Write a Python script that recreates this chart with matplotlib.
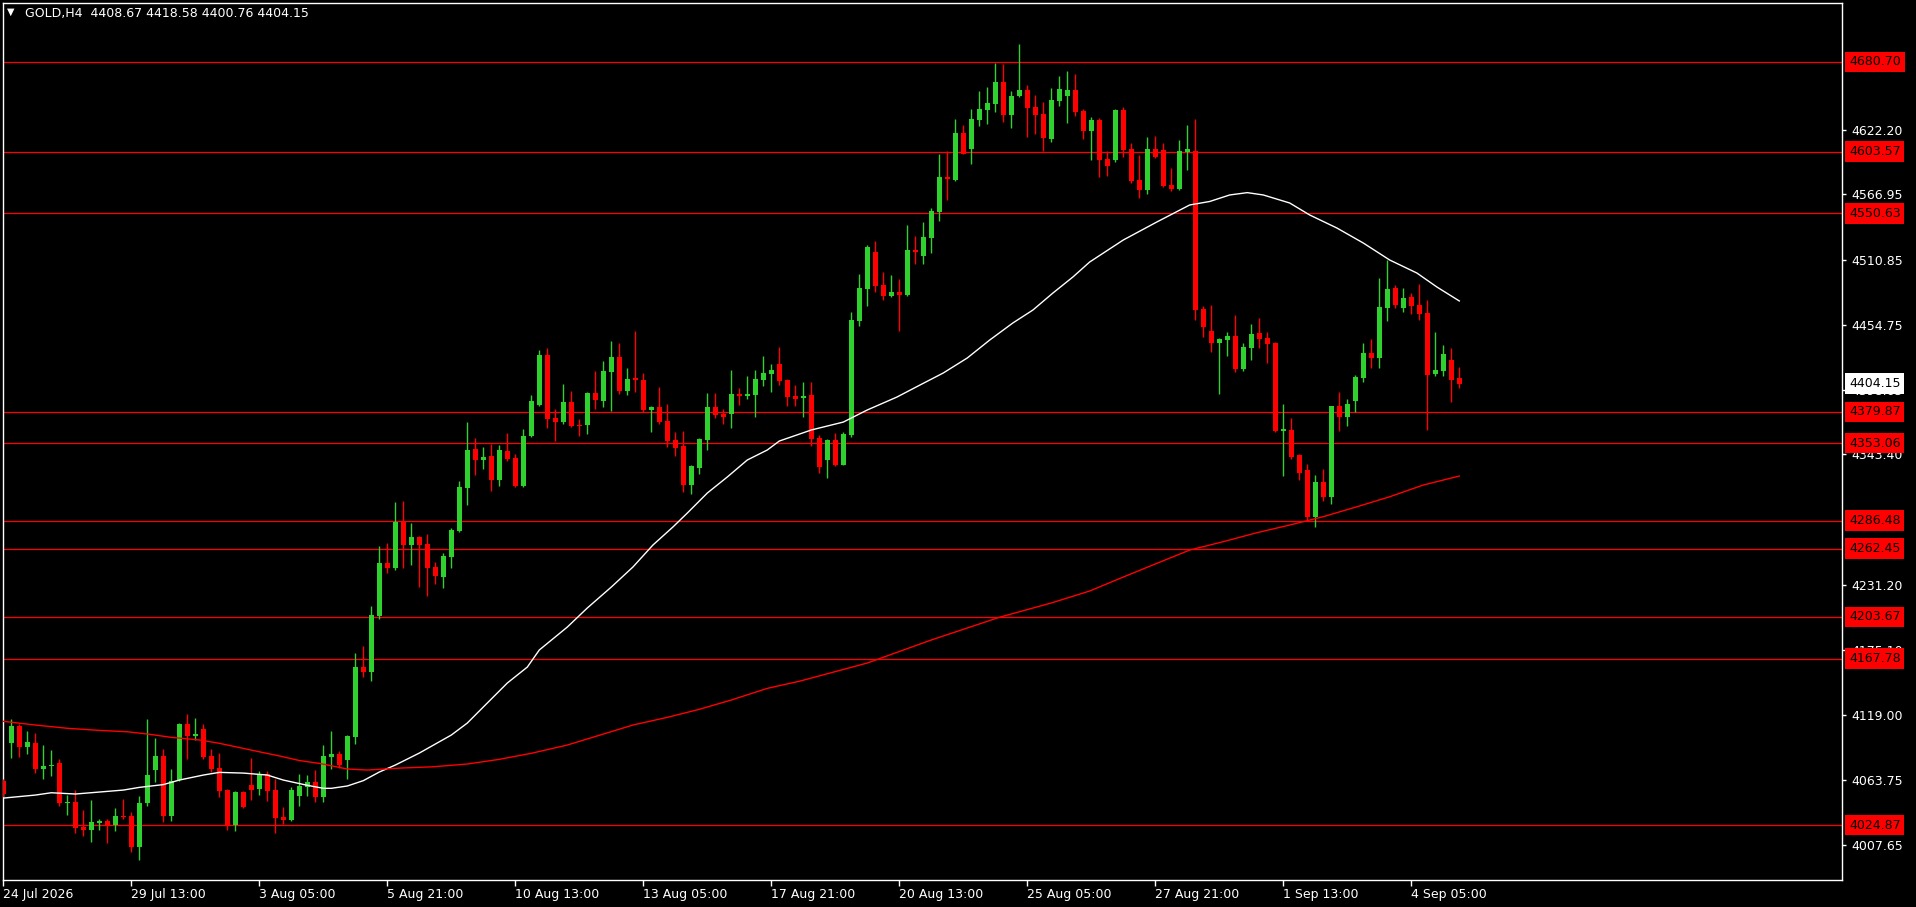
import matplotlib
matplotlib.use('Agg')
import matplotlib.pyplot as plt
import matplotlib.transforms as mtransforms
import numpy as np

# Свечи GOLD H4 (O, H, L, C)
opens = [4062.7, 4095.6, 4109.9, 4091.9, 4095.3, 4072.9, 4075.5, 4078.1, 4043.8, 4044.6,
         4023.1, 4020.5, 4026.8, 4028.3, 4024.8, 4032.8, 4032.6, 4005.9, 4043.8, 4072.1,
         4084.1, 4032.6, 4063.5, 4111.6, 4101.6, 4107.3, 4084.1, 4073.8, 4054.9, 4024.8,
         4053.2, 4059.2, 4055.8, 4068.7, 4054.9, 4031.7, 4029.1, 4049.8, 4057.5, 4061.8,
         4048.9, 4083.3, 4085.9, 4080.7, 4100.5, 4160.6, 4156.3, 4204.5, 4250.0, 4245.7,
         4285.3, 4265.5, 4272.4, 4266.4, 4246.6, 4238.0, 4255.2, 4277.5, 4314.5, 4348.0,
         4338.6, 4342.0, 4321.4, 4346.3, 4340.3, 4316.2, 4359.2, 4385.9, 4428.8, 4374.7,
         4371.2, 4388.4, 4368.7, 4368.7, 4396.2, 4389.3, 4414.2, 4427.1, 4397.9, 4409.1,
         4407.4, 4381.6, 4384.1, 4372.1, 4355.8, 4350.6, 4317.1, 4331.7, 4355.8, 4384.1,
         4378.1, 4378.1, 4395.3, 4393.6, 4394.5, 4407.4, 4412.5, 4421.1, 4407.4, 4393.6,
         4392.1, 4394.5, 4357.5, 4338.8, 4355.8, 4334.5, 4360.3, 4458.3, 4485.8, 4517.4,
         4489.0, 4479.8, 4483.0, 4480.7, 4519.1, 4514.2, 4529.4, 4551.8, 4581.9, 4579.3,
         4619.7, 4605.9, 4631.1, 4639.4, 4644.6, 4663.5, 4635.1, 4651.5, 4656.6, 4642.0,
         4636.0, 4614.5, 4647.2, 4651.5, 4656.6, 4638.6, 4621.4, 4630.8, 4597.3, 4596.5,
         4639.4, 4605.9, 4579.3, 4570.7, 4605.9, 4605.1, 4575.0, 4571.5, 4603.3, 4604.2,
         4468.4, 4449.5, 4439.2, 4441.7, 4445.2, 4416.8, 4434.9, 4447.8, 4443.5, 4439.2,
         4363.8, 4364.4, 4342.9, 4330.0, 4289.6, 4319.7, 4306.8, 4385.0, 4375.5, 4389.3,
         4409.1, 4430.6, 4426.3, 4469.2, 4486.4, 4469.2, 4478.7, 4471.8, 4464.9, 4412.5,
         4415.1, 4424.5, 4408.67]
highs = [4064.4, 4115.9, 4111.6, 4105.6, 4103.9, 4093.6, 4089.3, 4081.6, 4050.6, 4054.9,
         4037.7, 4046.3, 4030.0, 4030.0, 4039.5, 4047.2, 4036.0, 4049.8, 4115.9, 4099.6,
         4090.2, 4073.0, 4112.5, 4120.2, 4116.8, 4111.6, 4090.2, 4086.7, 4055.8, 4054.1,
         4054.1, 4082.4, 4071.2, 4071.2, 4064.4, 4040.3, 4057.5, 4068.7, 4067.8, 4072.1,
         4093.6, 4105.6, 4088.4, 4102.2, 4172.7, 4178.7, 4213.1, 4264.7, 4267.2, 4302.5,
         4303.4, 4284.4, 4273.3, 4275.0, 4250.9, 4258.6, 4280.1, 4320.5, 4371.2, 4357.5,
         4349.8, 4352.3, 4351.5, 4361.8, 4343.7, 4365.2, 4394.5, 4433.1, 4434.9, 4382.4,
         4403.9, 4397.9, 4373.8, 4397.0, 4415.1, 4423.7, 4440.9, 4439.2, 4417.7, 4449.5,
         4413.4, 4385.0, 4401.3, 4386.7, 4362.6, 4363.5, 4334.3, 4357.5, 4396.2, 4396.2,
         4382.4, 4415.9, 4400.5, 4410.8, 4415.9, 4428.0, 4421.1, 4435.7, 4408.2, 4403.1,
         4405.6, 4405.6, 4360.1, 4356.6, 4361.8, 4362.6, 4465.8, 4498.5, 4523.4, 4526.8,
         4500.2, 4497.6, 4494.2, 4540.6, 4531.1, 4543.2, 4555.2, 4601.6, 4604.2, 4631.7,
         4626.6, 4640.3, 4655.8, 4659.2, 4679.8, 4679.0, 4655.8, 4696.2, 4660.9, 4652.3,
         4646.3, 4658.4, 4668.7, 4673.0, 4670.4, 4640.3, 4633.4, 4632.6, 4604.2, 4640.3,
         4642.0, 4611.1, 4600.8, 4616.2, 4617.1, 4611.1, 4589.6, 4613.7, 4626.6, 4631.7,
         4471.0, 4471.8, 4443.5, 4448.6, 4463.2, 4439.2, 4455.5, 4460.6, 4448.6, 4440.0,
         4386.7, 4374.7, 4343.7, 4335.1, 4325.7, 4330.8, 4385.0, 4397.0, 4391.0, 4411.7,
         4439.2, 4442.6, 4495.0, 4510.5, 4489.0, 4486.4, 4482.1, 4489.9, 4476.1, 4448.6,
         4437.4, 4434.9, 4418.58]
lows = [4048.9, 4082.7, 4083.3, 4085.9, 4069.5, 4064.4, 4066.9, 4041.1, 4033.4, 4017.9,
        4015.4, 4010.2, 4020.5, 4009.4, 4019.7, 4030.0, 4001.6, 3994.7, 4041.1, 4061.8,
        4027.4, 4028.3, 4062.7, 4081.6, 4097.9, 4081.6, 4070.4, 4048.9, 4020.5, 4019.7,
        4039.5, 4046.3, 4050.6, 4045.5, 4017.9, 4025.7, 4028.3, 4041.1, 4049.8, 4044.6,
        4044.6, 4072.9, 4073.8, 4064.4, 4094.5, 4152.0, 4148.6, 4201.9, 4241.5, 4244.0,
        4245.7, 4248.3, 4229.4, 4221.7, 4232.0, 4228.6, 4245.7, 4276.7, 4299.9, 4325.7,
        4330.8, 4311.9, 4316.2, 4338.0, 4315.4, 4315.4, 4358.4, 4385.0, 4366.1, 4354.9,
        4369.5, 4367.0, 4359.2, 4360.9, 4382.4, 4384.2, 4380.7, 4395.3, 4394.5, 4397.0,
        4379.8, 4362.6, 4369.5, 4349.8, 4342.0, 4311.1, 4309.4, 4326.5, 4347.2, 4374.7,
        4369.5, 4366.1, 4385.9, 4391.0, 4375.5, 4402.2, 4397.0, 4403.0, 4385.0, 4385.0,
        4375.5, 4350.9, 4327.7, 4323.4, 4333.7, 4334.3, 4358.6, 4454.0, 4471.2, 4483.2,
        4476.4, 4479.0, 4449.7, 4479.8, 4507.3, 4507.3, 4516.8, 4544.3, 4562.3, 4578.4,
        4601.6, 4593.0, 4625.9, 4627.7, 4637.7, 4629.4, 4624.0, 4650.6, 4616.2, 4618.8,
        4604.2, 4611.9, 4642.9, 4628.3, 4634.3, 4614.5, 4596.5, 4581.9, 4582.7, 4594.7,
        4599.0, 4576.7, 4563.8, 4567.2, 4598.2, 4573.3, 4569.8, 4570.7, 4587.9, 4458.9,
        4444.3, 4431.4, 4395.3, 4428.0, 4414.2, 4415.1, 4424.5, 4434.9, 4421.9, 4362.6,
        4324.8, 4339.5, 4321.4, 4287.0, 4281.0, 4303.4, 4300.8, 4363.5, 4367.8, 4379.8,
        4405.6, 4417.7, 4417.7, 4458.1, 4469.2, 4465.8, 4464.1, 4458.9, 4364.4, 4410.8,
        4410.8, 4388.4, 4400.76]
closes = [4051.5, 4110.2, 4091.9, 4096.2, 4073.2, 4075.5, 4076.4, 4043.8, 4044.6, 4022.3,
          4020.5, 4027.4, 4028.5, 4024.8, 4032.6, 4032.0, 4005.9, 4043.8, 4067.8, 4084.1,
          4032.6, 4062.7, 4111.6, 4101.3, 4103.1, 4083.3, 4072.9, 4054.1, 4024.8, 4053.2,
          4040.3, 4054.9, 4067.8, 4054.1, 4030.8, 4029.1, 4054.9, 4058.4, 4061.8, 4048.9,
          4084.1, 4085.9, 4076.4, 4101.3, 4160.6, 4156.3, 4205.3, 4250.0, 4245.7, 4285.3,
          4265.5, 4272.4, 4265.5, 4245.7, 4238.9, 4256.1, 4278.4, 4315.4, 4347.2, 4338.6,
          4341.2, 4321.4, 4347.2, 4339.5, 4316.2, 4359.2, 4389.3, 4428.8, 4373.8, 4371.2,
          4388.4, 4367.8, 4367.8, 4396.2, 4390.2, 4415.1, 4427.1, 4397.9, 4408.2, 4407.4,
          4381.6, 4384.1, 4371.2, 4354.9, 4348.9, 4317.1, 4333.4, 4356.6, 4384.1, 4377.3,
          4375.5, 4395.3, 4393.6, 4395.3, 4408.2, 4413.4, 4415.9, 4406.5, 4392.7, 4391.2,
          4393.8, 4356.9, 4332.8, 4355.8, 4334.5, 4360.9, 4458.9, 4486.4, 4521.7, 4488.4,
          4479.8, 4483.0, 4480.7, 4519.1, 4517.6, 4530.3, 4552.6, 4581.9, 4579.9, 4619.7,
          4601.9, 4631.7, 4640.3, 4645.5, 4663.5, 4635.1, 4651.5, 4656.6, 4641.2, 4635.1,
          4615.4, 4648.0, 4657.5, 4656.6, 4637.7, 4621.4, 4630.8, 4596.5, 4591.3, 4639.4,
          4605.1, 4578.4, 4570.7, 4605.9, 4599.0, 4574.1, 4571.5, 4604.2, 4605.9, 4467.5,
          4452.9, 4439.2, 4442.6, 4445.2, 4416.8, 4435.7, 4446.9, 4442.6, 4438.3, 4363.5,
          4365.0, 4341.2, 4327.4, 4289.6, 4319.7, 4306.8, 4385.0, 4375.5, 4386.7, 4409.9,
          4430.6, 4426.3, 4470.1, 4485.6, 4471.8, 4477.8, 4471.0, 4464.1, 4411.7, 4415.9,
          4429.7, 4407.4, 4404.15]

# Скользящие средние (значения по номеру свечи)
white_ma_idx = [0, 4, 6, 9, 15, 17, 20, 22, 25, 27, 30, 33, 35, 38, 40, 41, 43, 45, 47,
                49, 52, 56, 58, 60, 63, 65.5, 67, 70.5, 73, 76, 78.7, 81.2, 83.7, 85.5,
                88, 90.5, 93, 95.5, 97, 101, 105, 108, 111.7, 114.6, 117.5, 120.5, 123.3,
                126.2, 128.7, 131.2, 133.7, 135.8, 140, 144.2, 148.3, 150.8, 153.3,
                155.5, 157.5, 160.8, 163.3, 166.7, 170, 173.3, 176.7, 179.2, 182]
white_ma_val = [4048.0, 4050.6, 4052.6, 4051.5, 4054.9, 4057.2, 4059.6, 4063.5, 4067.8,
                4070.1, 4069.5, 4067.8, 4063.5, 4059.0, 4056.4, 4056.4, 4058.4, 4063.0,
                4070.4, 4076.4, 4086.7, 4102.2, 4112.5, 4126.3, 4146.9, 4160.6, 4175.3,
                4195.0, 4211.4, 4229.4, 4246.6, 4265.5, 4281.0, 4293.0, 4310.2, 4324.0,
                4338.6, 4347.2, 4354.9, 4364.4, 4371.2, 4381.6, 4392.7, 4403.1, 4413.4,
                4426.3, 4441.7, 4456.4, 4467.5, 4482.1, 4495.9, 4508.8, 4527.7, 4543.2,
                4557.8, 4560.8, 4566.4, 4568.4, 4566.4, 4559.5, 4549.2, 4538.0, 4525.1,
                4510.5, 4499.3, 4487.3, 4475.3]
red_ma_idx = [0, 4, 8, 12, 15.5, 18, 21, 24.6, 27, 29.6, 32, 34.6, 37, 39.6, 43, 45.5,
              49.6, 53.7, 58, 62, 66, 70.5, 74.6, 78.7, 83, 87, 91, 95.5, 99.6, 108, 116,
              124.6, 131, 135.8, 140, 144.2, 148.3, 152.5, 156.7, 160.8, 165, 169.2,
              173.3, 177.5, 182]
red_ma_val = [4114.0, 4110.8, 4108.0, 4106.2, 4105.0, 4103.1, 4100.2, 4097.9, 4095.1,
              4091.3, 4087.8, 4084.1, 4080.3, 4077.7, 4073.0, 4072.1, 4073.8, 4074.9,
              4077.3, 4081.3, 4086.5, 4093.6, 4102.2, 4110.8, 4117.4, 4124.3, 4132.3,
              4142.3, 4148.6, 4164.1, 4183.9, 4203.6, 4215.7, 4226.0, 4238.0, 4249.8,
              4261.2, 4268.4, 4276.1, 4282.7, 4289.9, 4298.4, 4307.0, 4317.1, 4324.8]

# Горизонтальные уровни
levels = [4680.70, 4603.57, 4550.63, 4379.87, 4353.06, 4286.48, 4262.45, 4203.67, 4167.78, 4024.87]

# шкала цен (видимые подписи)
price_ticks = [4622.20, 4566.95, 4510.85, 4454.75, 4398.65, 4343.40,
               4231.20, 4175.10, 4119.00, 4063.75, 4007.65]
date_labels = ['24 Jul 2026', '29 Jul 13:00', '3 Aug 05:00', '5 Aug 21:00', '10 Aug 13:00',
               '13 Aug 05:00', '17 Aug 21:00', '20 Aug 13:00', '25 Aug 05:00', '27 Aug 21:00',
               '1 Sep 13:00', '4 Sep 05:00']
last_price = 4404.15

GREEN = '#2fd12f'
RED = '#ff0000'

plt.rcParams['font.family'] = ['DejaVu Sans']
fig = plt.figure(figsize=(19.16, 9.07), dpi=100, facecolor='black')
ax = fig.add_axes([3 / 1916, 27 / 907, 1839 / 1916, 877 / 907])
ax.set_facecolor('black')

o = np.array(opens)
h = np.array(highs)
l = np.array(lows)
c = np.array(closes)
x = np.arange(len(o))
up = c >= o
cols = np.where(up, GREEN, RED)

# уровни
for lv in levels:
    ax.axhline(lv, color=RED, lw=0.9, zorder=1)

# свечи
ax.vlines(x, l, h, colors=cols, lw=1.0, zorder=3)
body_low = np.minimum(o, c)
body_h = np.maximum(np.abs(c - o), 0.9)
ax.bar(x, body_h, bottom=body_low, width=0.62, color=cols, linewidth=0, zorder=4)

# средние
ax.plot(white_ma_idx, white_ma_val, color='white', lw=1.0, zorder=5)
ax.plot(red_ma_idx, red_ma_val, color=RED, lw=1.0, zorder=5)

ax.set_xlim(-0.04, 229.84)
ax.set_ylim(3977.6, 4731.4)

for sp in ax.spines.values():
    sp.set_color('white')
    sp.set_linewidth(1.0)

ax.yaxis.tick_right()
ax.set_yticks(price_ticks)
ax.set_yticklabels([f'{v:.2f}' for v in price_ticks])
ax.tick_params(axis='y', colors='white', labelsize=9, length=3, pad=4, width=1)

ax.set_xticks(np.arange(len(date_labels)) * 16)
ax.set_xticklabels(date_labels)
ax.tick_params(axis='x', colors='white', labelsize=9, length=4, pad=2, width=1)
for lbl in ax.get_xticklabels():
    lbl.set_ha('left')

trans = mtransforms.blended_transform_factory(ax.transAxes, ax.transData)
lx = 1 + 7 / 1839
for lv in levels:
    ax.text(lx, lv, f'{lv:.2f}', transform=trans, ha='left', va='center', fontsize=9,
            color='black', clip_on=False, zorder=10,
            bbox=dict(boxstyle='square,pad=0.3', fc=RED, ec='none'))
ax.text(lx, last_price, f'{last_price:.2f}', transform=trans, ha='left', va='center',
        fontsize=9, color='black', clip_on=False, zorder=11,
        bbox=dict(boxstyle='square,pad=0.3', fc='white', ec='none'))

# заголовок
fig.text(7 / 1916, 1 - 12 / 907, '▼', color='white', fontsize=7, va='center', ha='left')
fig.text(25 / 1916, 1 - 13 / 907,
         f'GOLD,H4  {opens[-1]:.2f} {highs[-1]:.2f} {lows[-1]:.2f} {closes[-1]:.2f}',
         color='white', fontsize=9, va='center', ha='left')

fig.savefig('out.png', dpi=100, facecolor='black')
